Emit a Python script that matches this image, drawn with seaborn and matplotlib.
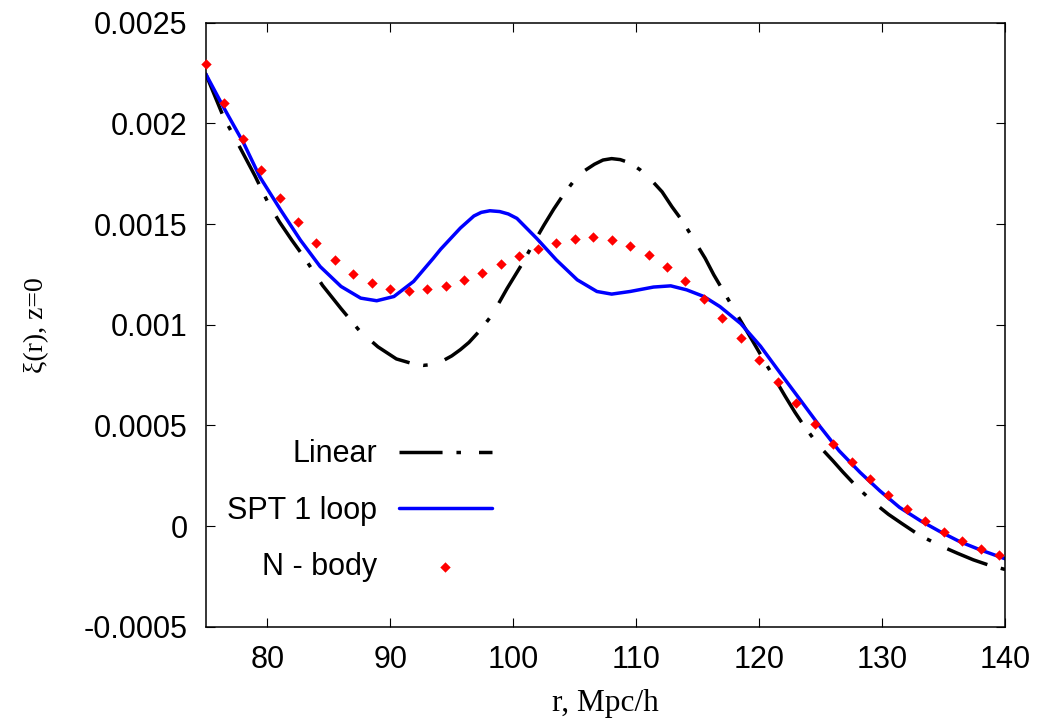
import matplotlib
matplotlib.use("Agg")
import matplotlib.pyplot as plt
import seaborn as sns

# ---- data ----
r_linear = [75, 76.45, 77.7, 79, 80.1, 81, 82, 83, 84.5, 86, 87.5, 89, 90.5, 91.9, 92.7,
            93.4, 94.1, 95, 95.7, 96.4, 97.3, 98.3, 99.5, 100.7, 101.6, 102.5, 103.3,
            104.1, 105, 105.8, 106.6, 107.3, 108, 108.7, 109.5, 110.3, 111.2, 112.1,
            112.9, 113.8, 114.7, 115.6, 116.3, 117.1, 118, 118.5, 119.5, 120.5, 121.3,
            122.1, 122.9, 123.7, 124.8, 126, 126.8, 128, 129.3, 130.5, 131.6, 133,
            134.7, 136.1, 137.4, 138.7, 140]
xi_linear = [0.002246, 0.002031, 0.00189, 0.00174, 0.001602, 0.00151, 0.00142, 0.001335,
             0.001195, 0.00108, 0.00097, 0.00089, 0.00083, 0.000805, 0.000798, 0.000802,
             0.000815, 0.000845, 0.000876, 0.000912, 0.000972, 0.00105, 0.00118, 0.0013,
             0.0014, 0.001495, 0.001575, 0.001648, 0.00172, 0.001765, 0.001797, 0.001818,
             0.001825, 0.00182, 0.001803, 0.00177, 0.00172, 0.00166, 0.001586, 0.001511,
             0.00142, 0.00133, 0.001248, 0.001165, 0.00107, 0.001018, 0.000915, 0.00081,
             0.000728, 0.000645, 0.000565, 0.000492, 0.000402, 0.000323, 0.000268, 0.00019,
             0.000117, 0.000058, 0.000012, -0.000045, -0.0000975, -0.000135, -0.000168,
             -0.000195, -0.000216]

r_spt = [75, 76.45, 78.1, 79.4, 81.1, 82.7, 84.3, 86, 87.6, 88.9, 90.3, 91.9, 93.5, 94.1,
         95.7, 96.8, 97.4, 98.1, 98.9, 99.6, 100.3, 101.9, 103.5, 105.2, 106.8, 108, 109.5,
         111.4, 112.8, 114.1, 115.5, 116.8, 117.4, 118.5, 120.1, 121.7, 123.3, 124.9,
         126.5, 128.2, 129.8, 131.4, 133.1, 134.7, 136.3, 137.9, 140]
xi_spt = [0.002246, 0.00208, 0.0019, 0.001734, 0.001569, 0.00142, 0.001289, 0.00119,
          0.001132, 0.001119, 0.00114, 0.001215, 0.00133, 0.001375, 0.00148, 0.00154,
          0.001558, 0.001566, 0.001562, 0.00155, 0.001528, 0.001429, 0.001322, 0.001223,
          0.001165, 0.001152, 0.001165, 0.001187, 0.001193, 0.001173, 0.00114, 0.00109,
          0.00106, 0.001005, 0.000893, 0.00076, 0.000629, 0.000497, 0.000373, 0.000266,
          0.000175, 0.0000926, 0.0000262, -0.000028, -0.0000777, -0.000117, -0.000163]

r_nbody = [75, 76.5, 78, 79.5, 81, 82.5, 84, 85.5, 87, 88.5, 90, 91.5, 93, 94.5, 96, 97.5,
           99, 100.5, 102, 103.5, 105, 106.5, 108, 109.5, 111, 112.5, 114, 115.5, 117,
           118.5, 120, 121.5, 123, 124.5, 126, 127.5, 129, 130.5, 132, 133.5, 135, 136.5,
           138, 139.5]
xi_nbody = [0.002296, 0.002099, 0.001921, 0.001766, 0.00163, 0.00151, 0.001407, 0.001322,
            0.001254, 0.001205, 0.001177, 0.001165, 0.001175, 0.001194, 0.001223, 0.001259,
            0.0013, 0.001342, 0.001378, 0.001407, 0.001427, 0.001434, 0.001422, 0.001393,
            0.001348, 0.001289, 0.001215, 0.001127, 0.001033, 0.000932, 0.000823, 0.000714,
            0.000609, 0.000505, 0.000406, 0.000317, 0.000233, 0.000153, 0.000086, 0.000023,
            -0.000031, -0.000076, -0.000112, -0.000145]

x_ticks = [80, 90, 100, 110, 120, 130, 140]
x_ticklabels = ["80", "90", "100", "110", "120", "130", "140"]
y_ticks = [-0.0005, 0, 0.0005, 0.001, 0.0015, 0.002, 0.0025]
y_ticklabels = ["-0.0005", "0", "0.0005", "0.001", "0.0015", "0.002", "0.0025"]

labels = ["Linear", "SPT 1 loop", "N - body"]

# ---- style ----
sns.set_theme(style="ticks")
plt.rcParams["font.family"] = ["Liberation Sans", "DejaVu Sans"]
plt.rcParams["lines.scale_dashes"] = True
plt.rcParams["text.color"] = "black"

fig = plt.figure(figsize=(10.56, 7.19), dpi=100)
ax = fig.add_axes([0.1948, 0.1284, 0.7572, 0.8400])

sns.lineplot(x=r_linear, y=xi_linear, ax=ax, color="black", linewidth=2.5,
             linestyle=(0, (12.4, 4.0, 1.3, 5.2)), label=labels[0], sort=False)
sns.lineplot(x=r_spt, y=xi_spt, ax=ax, color="#0000ff", linewidth=2.5,
             label=labels[1], sort=False)
sns.scatterplot(x=r_nbody, y=xi_nbody, ax=ax, color="#ff0000", marker="D", s=28,
                linewidth=0, label=labels[2], clip_on=False, zorder=5)

ax.set_xlim(75, 140)
ax.set_ylim(-0.0005, 0.0025)
ax.set_xticks(x_ticks)
ax.set_xticklabels(x_ticklabels)
ax.set_yticks(y_ticks)
ax.set_yticklabels(y_ticklabels)
ax.minorticks_off()

for sp in ax.spines.values():
    sp.set_visible(True)
    sp.set_color("black")
    sp.set_linewidth(1.1)

ax.tick_params(axis="both", which="major", direction="in", length=6.5, width=0.8,
               color="black", labelsize=22, labelcolor="black",
               top=True, right=True, pad=13)

ax.set_xlabel("r, Mpc/h", family=["Liberation Serif", "DejaVu Serif"], fontsize=22.5,
              color="black")
ax.set_ylabel("ξ(r), z=0", family=["Liberation Serif", "DejaVu Serif"], fontsize=20,
              color="black")
ax.xaxis.set_label_coords(0.5, -0.103)
ax.yaxis.set_label_coords(-0.196, 0.5)

leg = ax.legend(loc="center right", bbox_to_anchor=(0.358, 0.192), frameon=False,
                markerfirst=False, fontsize=22, handlelength=3.05, handletextpad=0.72,
                labelspacing=0.86, borderpad=0, borderaxespad=0, scatterpoints=1)
for t in leg.get_texts():
    t.set_color("black")

fig.savefig("out.png", dpi=100, facecolor="white")
